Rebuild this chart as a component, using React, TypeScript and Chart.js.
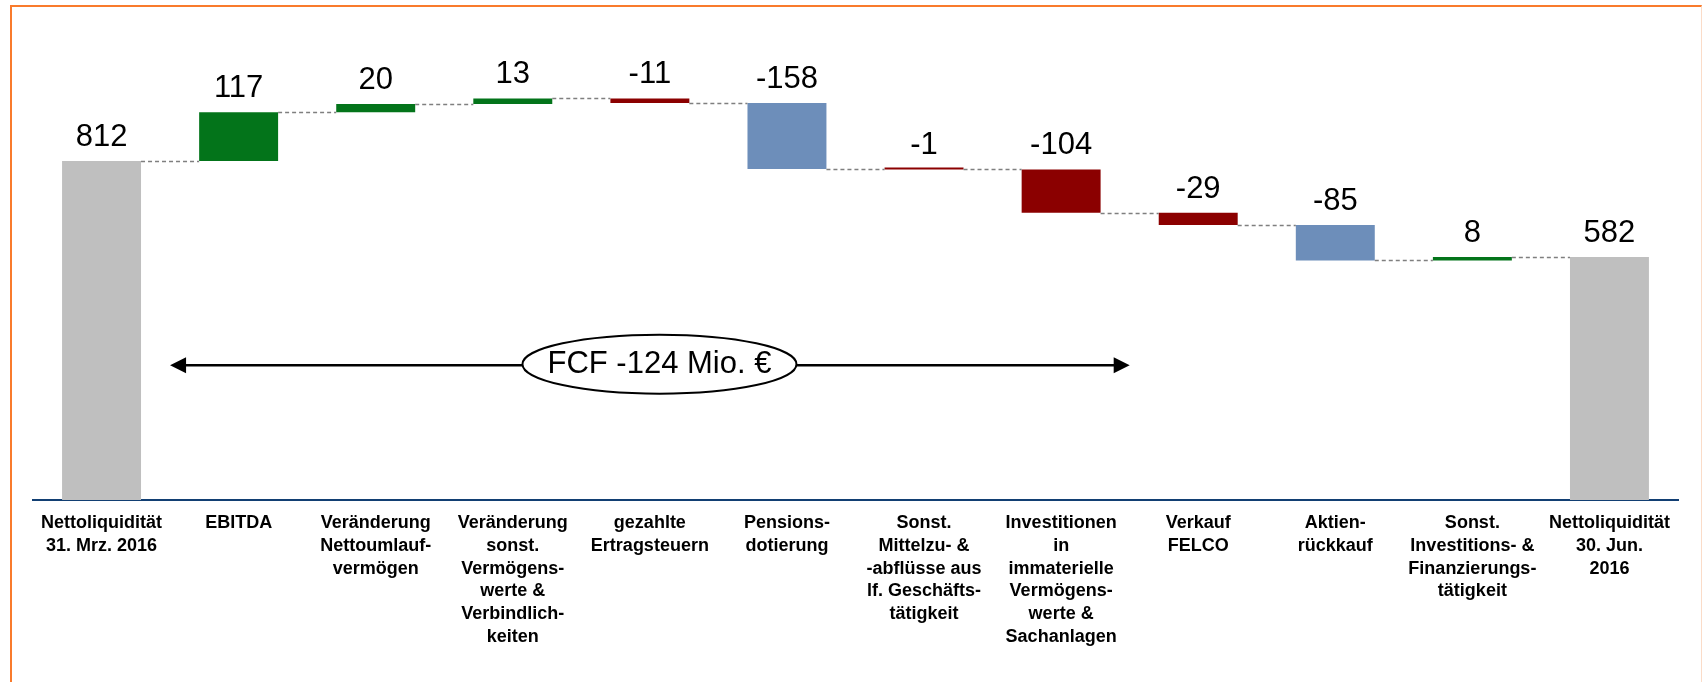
import React, { useEffect, useRef } from "react";
import { Chart, registerables } from "chart.js";

Chart.register(...registerables);

// ---- data ----
const categories: string[][] = [
  ["Nettoliquidität", "31. Mrz. 2016"],
  ["EBITDA"],
  ["Veränderung", "Nettoumlauf-", "vermögen"],
  ["Veränderung", "sonst.", "Vermögens-", "werte &", "Verbindlich-", "keiten"],
  ["gezahlte", "Ertragsteuern"],
  ["Pensions-", "dotierung"],
  ["Sonst.", "Mittelzu- &", "-abflüsse aus", "lf. Geschäfts-", "tätigkeit"],
  ["Investitionen", "in", "immaterielle", "Vermögens-", "werte &", "Sachanlagen"],
  ["Verkauf", "FELCO"],
  ["Aktien-", "rückkauf"],
  ["Sonst.", "Investitions- &", "Finanzierungs-", "tätigkeit"],
  ["Nettoliquidität", "30. Jun.", "2016"],
];
const values: number[] = [812, 117, 20, 13, -11, -158, -1, -104, -29, -85, 8, 582];
const isTotal: boolean[] = [true, false, false, false, false, false, false, false, false, false, false, true];
const fcfLabel = "FCF -124 Mio. €";
const fcfFrom = 0.5; // category boundary (index units)
const fcfTo = 7.5;
const fcfCenter = 4.07;
const fcfLevel = 323; // value-axis level of the arrow
const yMax = 1150;

// ---- styles ----
const GREEN = "#03741A";
const RED = "#8B0000";
const BLUE = "#6D8EBA";
const GRAY = "#BFBFBF";
const barColors = [GRAY, GREEN, GREEN, GREEN, RED, BLUE, RED, RED, RED, BLUE, GREEN, GRAY];
const FONT = "'Liberation Sans', Arial, Helvetica, sans-serif";

// build floating ranges + running levels from values
const ranges: [number, number][] = [];
const levels: number[] = [];
{
  let run = 0;
  values.forEach((v, i) => {
    if (isTotal[i]) {
      ranges.push([0, v]);
      run = v;
    } else {
      ranges.push([Math.min(run, run + v), Math.max(run, run + v)]);
      run += v;
    }
    levels.push(run);
  });
}

const waterfallPlugin = {
  id: "waterfallExtras",
  afterDatasetsDraw(chart: any) {
    const ctx = chart.ctx as CanvasRenderingContext2D;
    const meta = chart.getDatasetMeta(0);
    const xs = chart.scales.x;
    const ys = chart.scales.y;

    // connectors
    ctx.save();
    ctx.strokeStyle = "#7F7F7F";
    ctx.lineWidth = 1.5;
    ctx.setLineDash([4, 3]);
    for (let i = 0; i < meta.data.length - 1; i++) {
      const a = meta.data[i] as any;
      const b = meta.data[i + 1] as any;
      const y = Math.round(ys.getPixelForValue(levels[i])) + 0.5;
      ctx.beginPath();
      ctx.moveTo(a.x + a.width / 2, y);
      ctx.lineTo(b.x - b.width / 2, y);
      ctx.stroke();
    }
    ctx.restore();

    // value labels
    ctx.save();
    ctx.fillStyle = "#000";
    ctx.font = `31px ${FONT}`;
    ctx.textAlign = "center";
    ctx.textBaseline = "alphabetic";
    meta.data.forEach((el: any, i: number) => {
      const top = ys.getPixelForValue(ranges[i][1]);
      ctx.fillText(String(values[i]), el.x, top - 15);
    });
    ctx.restore();

    // FCF arrow + ellipse
    const x1 = xs.getPixelForValue(fcfFrom);
    const x2 = xs.getPixelForValue(fcfTo);
    const cx = xs.getPixelForValue(fcfCenter);
    const y = ys.getPixelForValue(fcfLevel);
    const head = 16;
    const hh = 8;
    ctx.save();
    ctx.strokeStyle = "#000";
    ctx.fillStyle = "#000";
    ctx.lineWidth = 2.5;
    ctx.beginPath();
    ctx.moveTo(x1 + head - 1, y);
    ctx.lineTo(x2 - head + 1, y);
    ctx.stroke();
    ctx.beginPath();
    ctx.moveTo(x1, y);
    ctx.lineTo(x1 + head, y - hh);
    ctx.lineTo(x1 + head, y + hh);
    ctx.closePath();
    ctx.fill();
    ctx.beginPath();
    ctx.moveTo(x2, y);
    ctx.lineTo(x2 - head, y - hh);
    ctx.lineTo(x2 - head, y + hh);
    ctx.closePath();
    ctx.fill();

    ctx.beginPath();
    ctx.ellipse(cx, y - 1, 137, 29.5, 0, 0, Math.PI * 2);
    ctx.fillStyle = "#fff";
    ctx.fill();
    ctx.lineWidth = 2;
    ctx.stroke();

    ctx.fillStyle = "#000";
    ctx.font = `31px ${FONT}`;
    ctx.textAlign = "center";
    ctx.textBaseline = "middle";
    ctx.fillText(fcfLabel, cx, y - 1);
    ctx.restore();
  },
};

export default function App() {
  const ref = useRef<HTMLCanvasElement | null>(null);

  useEffect(() => {
    if (!ref.current) return;
    const chart = new Chart(ref.current, {
      type: "bar",
      data: {
        labels: categories as any,
        datasets: [
          {
            data: ranges as any,
            backgroundColor: barColors,
            borderWidth: 0,
            categoryPercentage: 1,
            barPercentage: 0.576,
            minBarLength: 2,
          },
        ],
      },
      options: {
        animation: false,
        responsive: false,
        devicePixelRatio: 1,
        layout: { padding: { left: 33, right: 24, top: 20, bottom: 0 } },
        plugins: {
          legend: { display: false },
          tooltip: { enabled: false },
        },
        scales: {
          x: {
            offset: true,
            grid: { display: false, drawTicks: false },
            border: { display: true, color: "#123F73", width: 2 },
            afterFit: (scale: any) => {
              scale.height = 182;
            },
            ticks: {
              autoSkip: false,
              maxRotation: 0,
              minRotation: 0,
              padding: 12,
              color: "#000",
              font: { family: FONT, size: 18, weight: "bold", lineHeight: 1.26 },
            },
          },
          y: {
            display: false,
            min: 0,
            max: yMax,
          },
        },
      },
      plugins: [waterfallPlugin],
    });
    return () => chart.destroy();
  }, []);

  return (
    <div style={{ position: "absolute", left: 0, top: 0, width: 1702, height: 682, background: "#fff", overflow: "hidden" }}>
      <div
        style={{
          position: "absolute",
          left: 10,
          top: 5,
          width: 1692,
          height: 700,
          borderTop: "2px solid #F97B2C",
          borderLeft: "2px solid #F97B2C",
          borderRight: "1px solid #FBDCC8",
          boxSizing: "border-box",
        }}
      />
      <canvas
        ref={ref}
        width={1702}
        height={682}
        style={{ position: "absolute", left: 0, top: 0, width: 1702, height: 682 }}
      />
    </div>
  );
}
